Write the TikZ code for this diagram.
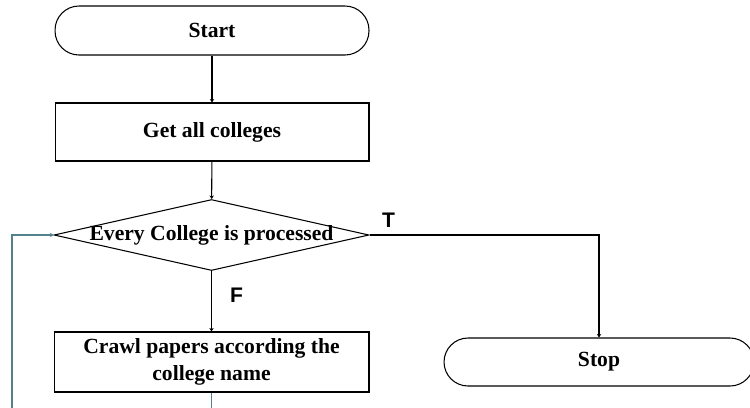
\documentclass[tikz,border=0pt]{standalone}
\usepackage{fontspec}
\setmainfont{Liberation Serif}
\newfontfamily\labfont{Liberation Sans}
\usetikzlibrary{shapes.geometric,arrows.meta,positioning}
\definecolor{loopcol}{RGB}{84,130,140}
\tikzset{
  box/.style={draw, line width=.6pt, rectangle, align=center, inner sep=0pt,
    font=\fontsize{12.3}{15}\selectfont\bfseries},
  term/.style={box, rounded corners=.48cm},
  dec/.style={draw, line width=.6pt, diamond, inner sep=0pt},
  flow/.style={line width=.6pt, -{Stealth[length=2pt,width=2.5pt]}},
  lab/.style={font=\fontsize{12}{14}\selectfont\labfont\bfseries, inner sep=0pt}
}
\begin{document}
\begin{tikzpicture}[x=.02cm,y=-.02cm]
  \useasboundingbox (0,0) rectangle (750,407);
  \node[term, minimum width=6.28cm, minimum height=.98cm] (start) at (212,30.5) {Start};
  \node[box, minimum width=6.28cm, minimum height=1.16cm] (get) at (212,132) {Get all colleges};
  \node[dec, minimum width=6.3cm, minimum height=1.42cm] (dia) at (211.5,235) {};
  \node[box, draw=none] (diatext) at (dia) {Every College is processed};
  \node[box, minimum width=6.3cm, minimum height=1.2cm] (crawl) at (211.5,362) {Crawl papers according the\\college name};
  \node[term, minimum width=6.2cm, minimum height=.96cm] (stop) at (599,362) {Stop};
  \coordinate (back) at (12,420);

  \draw[flow] (start) -- (get);
  \draw[flow] (get) -- (dia);
  \draw[flow] (dia.east) -- node[lab, pos=0, anchor=south west, xshift=.24cm, yshift=.14cm] (t) {T} (dia.east -| stop.north) -- (stop.north);
  \draw[flow] (dia.south) -- node[lab, pos=0, anchor=north west, xshift=.36cm, yshift=-.32cm] (f) {F} (crawl.north);
  \draw[flow, loopcol] (crawl.south) |- (back) |- (dia.west);
\end{tikzpicture}
\end{document}
